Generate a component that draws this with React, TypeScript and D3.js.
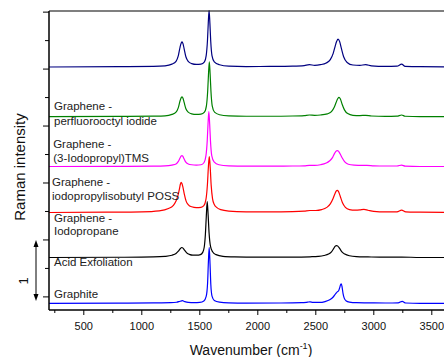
import React from "react";
import * as d3 from "d3";

type P = [number, number];

// Wavenumber (cm^-1), intensity above each spectrum's baseline (in units of the "1" scale bar)
const graphite: P[] = [[200,0],[800,0.003],[1100,0.006],[1250,0.01],[1300,0.018],[1330,0.035],[1350,0.045],[1370,0.03],[1400,0.015],[1450,0.01],[1500,0.015],[1535,0.04],[1555,0.12],[1567,0.35],[1574,0.72],[1581,0.98],[1588,0.7],[1595,0.33],[1606,0.12],[1625,0.05],[1670,0.02],[1750,0.008],[1900,0.004],[2200,0.005],[2380,0.01],[2430,0.02],[2450,0.025],[2475,0.015],[2530,0.015],[2580,0.03],[2620,0.06],[2650,0.11],[2672,0.17],[2685,0.2],[2697,0.22],[2707,0.28],[2714,0.33],[2720,0.34],[2727,0.28],[2735,0.17],[2745,0.09],[2760,0.045],[2790,0.02],[2850,0.01],[2950,0.008],[3100,0.005],[3210,0.006],[3245,0.035],[3275,0.005],[3400,0],[3700,0]];

const acidExfoliation: P[] = [[200,0],[800,0.004],[1100,0.01],[1200,0.02],[1260,0.04],[1295,0.07],[1315,0.11],[1330,0.15],[1340,0.17],[1346,0.175],[1355,0.165],[1368,0.13],[1385,0.085],[1410,0.055],[1440,0.04],[1475,0.04],[1505,0.05],[1525,0.09],[1538,0.18],[1548,0.4],[1556,0.72],[1564,0.98],[1572,0.74],[1580,0.43],[1592,0.2],[1610,0.1],[1640,0.05],[1700,0.02],[1800,0.01],[2000,0.005],[2300,0.005],[2450,0.012],[2520,0.02],[2570,0.035],[2610,0.06],[2635,0.1],[2655,0.16],[2668,0.2],[2678,0.21],[2690,0.2],[2705,0.16],[2725,0.1],[2750,0.06],[2790,0.03],[2850,0.015],[2950,0.01],[3100,0.005],[3240,0.008],[3400,0],[3700,0]];

const iodopropane: P[] = [[200,0],[700,0.005],[1000,0.012],[1150,0.03],[1230,0.07],[1270,0.12],[1295,0.2],[1312,0.3],[1325,0.42],[1333,0.5],[1339,0.53],[1346,0.51],[1355,0.44],[1367,0.32],[1382,0.2],[1400,0.14],[1430,0.1],[1470,0.085],[1510,0.09],[1535,0.12],[1553,0.23],[1566,0.5],[1574,0.8],[1582,0.98],[1590,0.78],[1598,0.48],[1610,0.24],[1625,0.14],[1645,0.09],[1680,0.05],[1750,0.025],[1900,0.012],[2100,0.01],[2300,0.015],[2400,0.025],[2450,0.035],[2500,0.035],[2550,0.05],[2595,0.09],[2625,0.15],[2648,0.24],[2665,0.33],[2677,0.38],[2685,0.39],[2695,0.37],[2710,0.29],[2730,0.17],[2755,0.09],[2790,0.05],[2840,0.04],[2880,0.045],[2915,0.055],[2950,0.04],[3000,0.02],[3100,0.01],[3200,0.012],[3240,0.04],[3275,0.01],[3400,0.005],[3700,0]];

const poss: P[] = [[200,0],[800,0.003],[1100,0.006],[1200,0.01],[1260,0.025],[1295,0.045],[1315,0.09],[1330,0.15],[1340,0.185],[1346,0.19],[1353,0.18],[1363,0.14],[1378,0.08],[1400,0.045],[1430,0.03],[1470,0.025],[1510,0.03],[1537,0.07],[1553,0.19],[1564,0.45],[1571,0.75],[1578,0.965],[1585,0.75],[1592,0.45],[1603,0.19],[1623,0.08],[1665,0.03],[1750,0.012],[1900,0.006],[2100,0.006],[2300,0.008],[2400,0.012],[2445,0.02],[2490,0.02],[2540,0.03],[2590,0.06],[2620,0.1],[2645,0.16],[2662,0.23],[2675,0.27],[2685,0.28],[2695,0.27],[2710,0.22],[2728,0.15],[2750,0.08],[2780,0.04],[2830,0.025],[2900,0.02],[2940,0.02],[3000,0.012],[3100,0.008],[3200,0.008],[3240,0.025],[3270,0.006],[3400,0],[3700,0]];

const tms: P[] = [[200,0],[800,0.005],[1100,0.01],[1200,0.015],[1260,0.04],[1295,0.08],[1315,0.16],[1330,0.28],[1340,0.335],[1347,0.35],[1355,0.325],[1365,0.25],[1380,0.14],[1400,0.08],[1430,0.05],[1470,0.04],[1510,0.045],[1540,0.08],[1557,0.19],[1568,0.45],[1575,0.75],[1582,0.965],[1589,0.75],[1596,0.45],[1607,0.19],[1627,0.08],[1670,0.035],[1750,0.015],[1900,0.008],[2100,0.008],[2300,0.012],[2400,0.02],[2445,0.03],[2490,0.025],[2540,0.03],[2600,0.05],[2635,0.09],[2660,0.17],[2675,0.25],[2690,0.32],[2700,0.34],[2712,0.31],[2727,0.22],[2747,0.12],[2775,0.055],[2820,0.025],[2880,0.02],[2930,0.025],[2980,0.012],[3100,0.005],[3200,0.01],[3240,0.03],[3270,0.008],[3400,0],[3700,0]];

const perfluoro: P[] = [[200,0],[800,0.005],[1100,0.01],[1200,0.02],[1260,0.05],[1295,0.1],[1315,0.2],[1330,0.35],[1340,0.42],[1347,0.44],[1355,0.41],[1365,0.32],[1380,0.18],[1400,0.1],[1430,0.06],[1470,0.045],[1510,0.05],[1540,0.09],[1555,0.2],[1566,0.46],[1573,0.77],[1580,0.99],[1587,0.77],[1594,0.46],[1605,0.2],[1625,0.09],[1670,0.04],[1750,0.015],[1900,0.008],[2100,0.01],[2300,0.015],[2400,0.025],[2445,0.04],[2490,0.03],[2540,0.04],[2590,0.07],[2625,0.13],[2650,0.24],[2665,0.35],[2680,0.45],[2692,0.49],[2705,0.45],[2720,0.33],[2740,0.18],[2770,0.08],[2820,0.035],[2880,0.03],[2930,0.04],[2980,0.02],[3100,0.01],[3200,0.015],[3240,0.05],[3270,0.012],[3400,0.005],[3700,0.003]];

const spectra: P[][] = [graphite, acidExfoliation, iodopropane, poss, tms, perfluoro];
const offsets = [-0.112, 0.692, 1.482, 2.29, 3.164, 4.037];
const colors = ["#0000ff", "#000000", "#ff0000", "#ff00ff", "#008000", "#000080"];

// Labels: lines of text, baseline value (intensity units) and start wavenumber
const labelLines: string[][] = [
  ["Graphite"],
  ["Acid Exfoliation"],
  ["Graphene -", "Iodopropane"],
  ["Graphene -", "iodopropylisobutyl POSS"],
  ["Graphene -", "(3-Iodopropyl)TMS"],
  ["Graphene -", "perfluorooctyl iodide"],
];
const labelBaselines: number[][] = [
  [-0.012],
  [0.54],
  [1.32, 1.09],
  [1.94, 1.70],
  [2.62, 2.37],
  [3.28, 3.02],
];
const labelX = [243, 243, 243, 226, 236, 243];

const xMajor = [500, 1000, 1500, 2000, 2500, 3000, 3500];
const xMinor = [250, 750, 1250, 1750, 2250, 2750, 3250];
const yMajor = [0, 1, 2, 3, 4, 5];
const yMinor = [0.5, 1.5, 2.5, 3.5, 4.5];
const scaleBar = [-0.07, 1.0];

export default function App() {
  const W = 444, H = 357;
  const x = d3.scaleLinear().domain([200, 3700]).range([49, 455]);
  const y = d3.scaleLinear().domain([-0.23, 5.02]).range([310, 11]);
  const font = "'Liberation Sans', Arial, Helvetica, sans-serif";
  const x0 = x.range()[0];
  const yb = y.range()[0];
  const yt = y.range()[1];
  const sbTop = y(scaleBar[1]);
  const sbBot = y(scaleBar[0]);
  const sbX = 36;

  return (
    <svg width={W} height={H} style={{ position: "absolute", left: 0, top: 0 }} fontFamily={font}>
      <rect x={0} y={0} width={W} height={H} fill="#fff" />
      {spectra.map((s, i) => {
        const line = d3
          .line<P>()
          .x((d) => x(d[0]))
          .y((d) => y(d[1] + offsets[i]))
          .curve(d3.curveMonotoneX);
        return <path key={i} d={line(s) || ""} fill="none" stroke={colors[i]} strokeWidth={1.2} />;
      })}
      {/* frame */}
      <line x1={x0} x2={W} y1={yt} y2={yt} stroke="#000" strokeWidth={1.2} />
      <line x1={x0} x2={x0} y1={yt} y2={yb} stroke="#000" strokeWidth={1.5} />
      <line x1={x0} x2={W} y1={yb} y2={yb} stroke="#000" strokeWidth={1.5} />
      {xMajor.map((v) => (
        <g key={"xm" + v}>
          <line x1={x(v)} x2={x(v)} y1={yb} y2={yb + 5} stroke="#000" strokeWidth={1} />
          <text x={x(v)} y={330} fontSize={11} textAnchor="middle" fill="#111">{v}</text>
        </g>
      ))}
      {xMinor.map((v) => (
        <line key={"xn" + v} x1={x(v)} x2={x(v)} y1={yb} y2={yb + 3} stroke="#000" strokeWidth={1} />
      ))}
      {yMajor.map((v) => (
        <line key={"ym" + v} x1={x0 - 6} x2={x0} y1={y(v)} y2={y(v)} stroke="#000" strokeWidth={1} />
      ))}
      {yMinor.map((v) => (
        <line key={"yn" + v} x1={x0 - 4} x2={x0} y1={y(v)} y2={y(v)} stroke="#000" strokeWidth={1} />
      ))}
      {/* series labels */}
      {labelLines.map((lines, i) =>
        lines.map((t, j) => (
          <text key={"l" + i + j} x={x(labelX[i])} y={y(labelBaselines[i][j])} fontSize={11.5} fill="#222">
            {t}
          </text>
        ))
      )}
      {/* scale bar */}
      <line x1={sbX} x2={sbX} y1={sbTop + 5} y2={sbBot - 5} stroke="#000" strokeWidth={1} />
      <path d={`M${sbX},${sbTop} L${sbX - 2.5},${sbTop + 7} L${sbX + 2.5},${sbTop + 7} Z`} fill="#000" />
      <path d={`M${sbX},${sbBot} L${sbX - 2.5},${sbBot - 7} L${sbX + 2.5},${sbBot - 7} Z`} fill="#000" />
      <text transform={`translate(27.5,281) rotate(-90)`} fontSize={13} textAnchor="middle" fill="#111">1</text>
      {/* axis titles */}
      <text transform={`translate(25,167) rotate(-90)`} fontSize={15} textAnchor="middle" fill="#111">Raman intensity</text>
      <text x={251} y={355} fontSize={14} textAnchor="middle" fill="#111">
        Wavenumber (cm<tspan fontSize={9} dy={-6}>-1</tspan><tspan dy={6}>)</tspan>
      </text>
    </svg>
  );
}
